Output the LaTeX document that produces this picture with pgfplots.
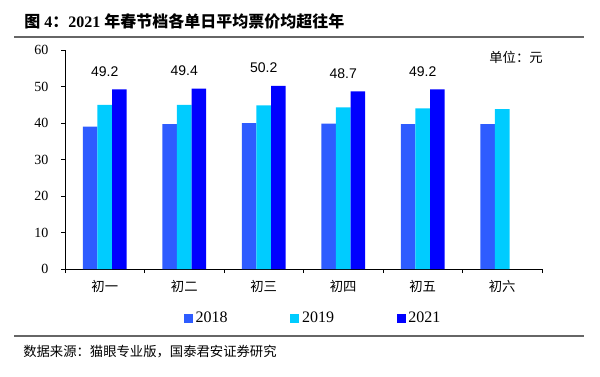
\documentclass[border=0pt]{standalone}
\usepackage{pgfplots}
\pgfplotsset{compat=1.18}
\usepackage{fontspec}
\setmainfont{Liberation Serif}
\newfontfamily\cjk{Noto Sans CJK SC}
\newfontfamily\arial{Liberation Sans}
\definecolor{cA}{HTML}{2E5CFF}
\definecolor{cB}{HTML}{00CCFF}
\definecolor{cC}{HTML}{0000FF}
\definecolor{rule}{HTML}{666666}
\begin{document}
\begin{tikzpicture}
\begin{scope}[x=0.75pt,y=-0.75pt]
\useasboundingbox (0,0) rectangle (600,376);
\node[anchor=west,inner sep=0pt] at (24,21) {\fontsize{12}{14}\selectfont\bfseries{\cjk 图} 4{\cjk ：}2021 {\cjk 年春节档各单日平均票价均超往年}};
\draw[rule,line width=1.5pt] (14,37) -- (584,37);
\draw[rule,line width=1.5pt] (14,336) -- (584,336);
\node[anchor=west,inner sep=0pt] at (23,352) {\cjk\fontsize{10}{12}\selectfont 数据来源：猫眼专业版，国泰君安证券研究};
\node[inner sep=0pt] at (516,57) {\cjk\fontsize{10}{12}\selectfont 单位：元};
\end{scope}
\begin{axis}[
  at={(48.75pt,-201.75pt)}, anchor=south west,
  scale only axis, width=357.75pt, height=164.25pt,
  xmin=-0.5, xmax=5.5, ymin=0, ymax=60,
  axis x line*=bottom, axis y line*=left,
  ytick={0,10,...,60},
  xtick={-0.5,0.5,...,5.5}, xticklabels={},
  extra x ticks={0,1,2,3,4,5},
  extra x tick labels={初一,初二,初三,初四,初五,初六},
  extra x tick style={major tick length=0pt},
  tick align=outside, major tick length=3pt,
  tick style={black, line width=0.6pt},
  axis line style={black, line width=0.6pt},
  xticklabel style={font=\cjk\fontsize{10}{12}\selectfont, yshift=-5pt},
  yticklabel style={font=\fontsize{10.5}{12}\selectfont, xshift=-6pt},
  /pgf/number format/assume math mode=true,
  legend style={at={(0.521,-0.225)}, anchor=center, draw=none, font=\fontsize{12}{14}\selectfont, legend columns=3, /tikz/every even column/.append style={column sep=45pt}},
  legend image code/.code={\fill[#1] (0pt,-3.4pt) rectangle (6.75pt,3.4pt);},
  clip=false,
]
\addplot[ybar, fill=cA, draw=none, bar width=10.9pt, bar shift=-10.9pt] coordinates {(0,39.0)(1,39.7)(2,40.0)(3,39.8)(4,39.7)(5,39.7)};
\addlegendentry{2018}
\addplot[ybar, fill=cB, draw=none, bar width=10.9pt, bar shift=0pt] coordinates {(0,45.0)(1,45.0)(2,44.8)(3,44.3)(4,44.0)(5,43.8)};
\addlegendentry{2019}
\addplot[ybar, fill=cC, draw=none, bar width=10.9pt, bar shift=10.9pt,
  nodes near coords, nodes near coords style={font=\arial\fontsize{10.5}{12}\selectfont, black, yshift=6pt},
  point meta=explicit symbolic] coordinates {(0,49.2)[49.2](1,49.4)[49.4](2,50.2)[50.2](3,48.7)[48.7](4,49.2)[49.2]};
\addlegendentry{2021}
\end{axis}
\end{tikzpicture}
\end{document}
